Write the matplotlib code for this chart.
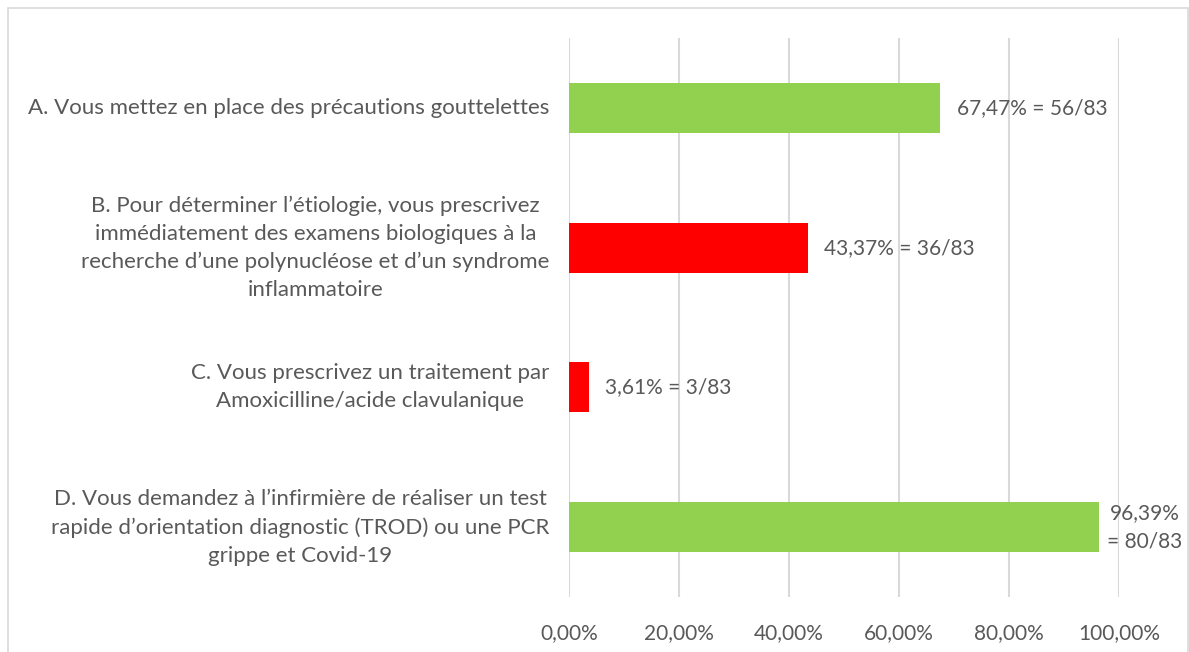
import matplotlib
matplotlib.use("Agg")
import matplotlib.pyplot as plt
from matplotlib.patches import Rectangle

# donnees
categories = [
    "A. Vous mettez en place des précautions gouttelettes",
    "B. Pour déterminer l\u2019étiologie, vous prescrivez\nimmédiatement des examens biologiques à la\nrecherche d\u2019une polynucléose et d\u2019un syndrome\ninflammatoire",
    "C. Vous prescrivez un traitement par\nAmoxicilline/acide clavulanique",
    "D. Vous demandez à l\u2019infirmière de réaliser un test\nrapide d\u2019orientation diagnostic (TROD) ou une PCR\ngrippe et Covid-19",
]
valeurs = [67.47, 43.37, 3.61, 96.39]
etiquettes = ["67,47% = 56/83", "43,37% = 36/83", "3,61% = 3/83", "96,39%\n= 80/83"]
couleurs = ["#92D050", "#FF0000", "#FF0000", "#92D050"]
ticks = [0, 20, 40, 60, 80, 100]
tick_labels = ["0,00%", "20,00%", "40,00%", "60,00%", "80,00%", "100,00%"]

plt.rcParams['font.family'] = ['Lato', 'DejaVu Sans']
gris = "#595959"

fig = plt.figure(figsize=(11.89, 6.52), dpi=100)
W, H = 1189, 652
ax = fig.add_axes([569 / W, 1 - 597 / H, 550 / W, 559 / H])

y = list(range(len(categories)))
ax.barh(y, valeurs, height=0.357, color=couleurs, zorder=3)
ax.set_ylim(len(categories) - 0.5, -0.5)
ax.set_xlim(0, 100)

for i, v in enumerate(valeurs):
    # etiquette sur deux lignes: plus pres de la barre (manque de place)
    decal = 1.5 if "\n" in etiquettes[i] else 3.0
    ax.text(v + decal, i, etiquettes[i], va="center", ha="left", fontsize=15,
            color=gris, linespacing=1.5, multialignment="center")

ax.set_xticks(ticks)
ax.set_xticklabels(tick_labels, fontsize=15, color=gris)
ax.set_yticks(y)
ax.set_yticklabels(categories, fontsize=16, color=gris, multialignment="center",
                   linespacing=1.5)
for lab in ax.get_yticklabels():
    lab.set_va("center")
ax.tick_params(axis="y", length=0, pad=14)
ax.tick_params(axis="x", length=0, pad=19)
ax.grid(axis="x", color="#d9d9d9", linewidth=1.5, zorder=0)
for s in ax.spines.values():
    s.set_visible(False)

# cadre du graphique
fig.patches.append(Rectangle((8 / W, -0.01), 1 - 9 / W, 1 - 8 / H + 0.01,
                             transform=fig.transFigure, fill=False,
                             edgecolor="#d9d9d9", linewidth=1.2))

fig.savefig("out.png", dpi=100)
